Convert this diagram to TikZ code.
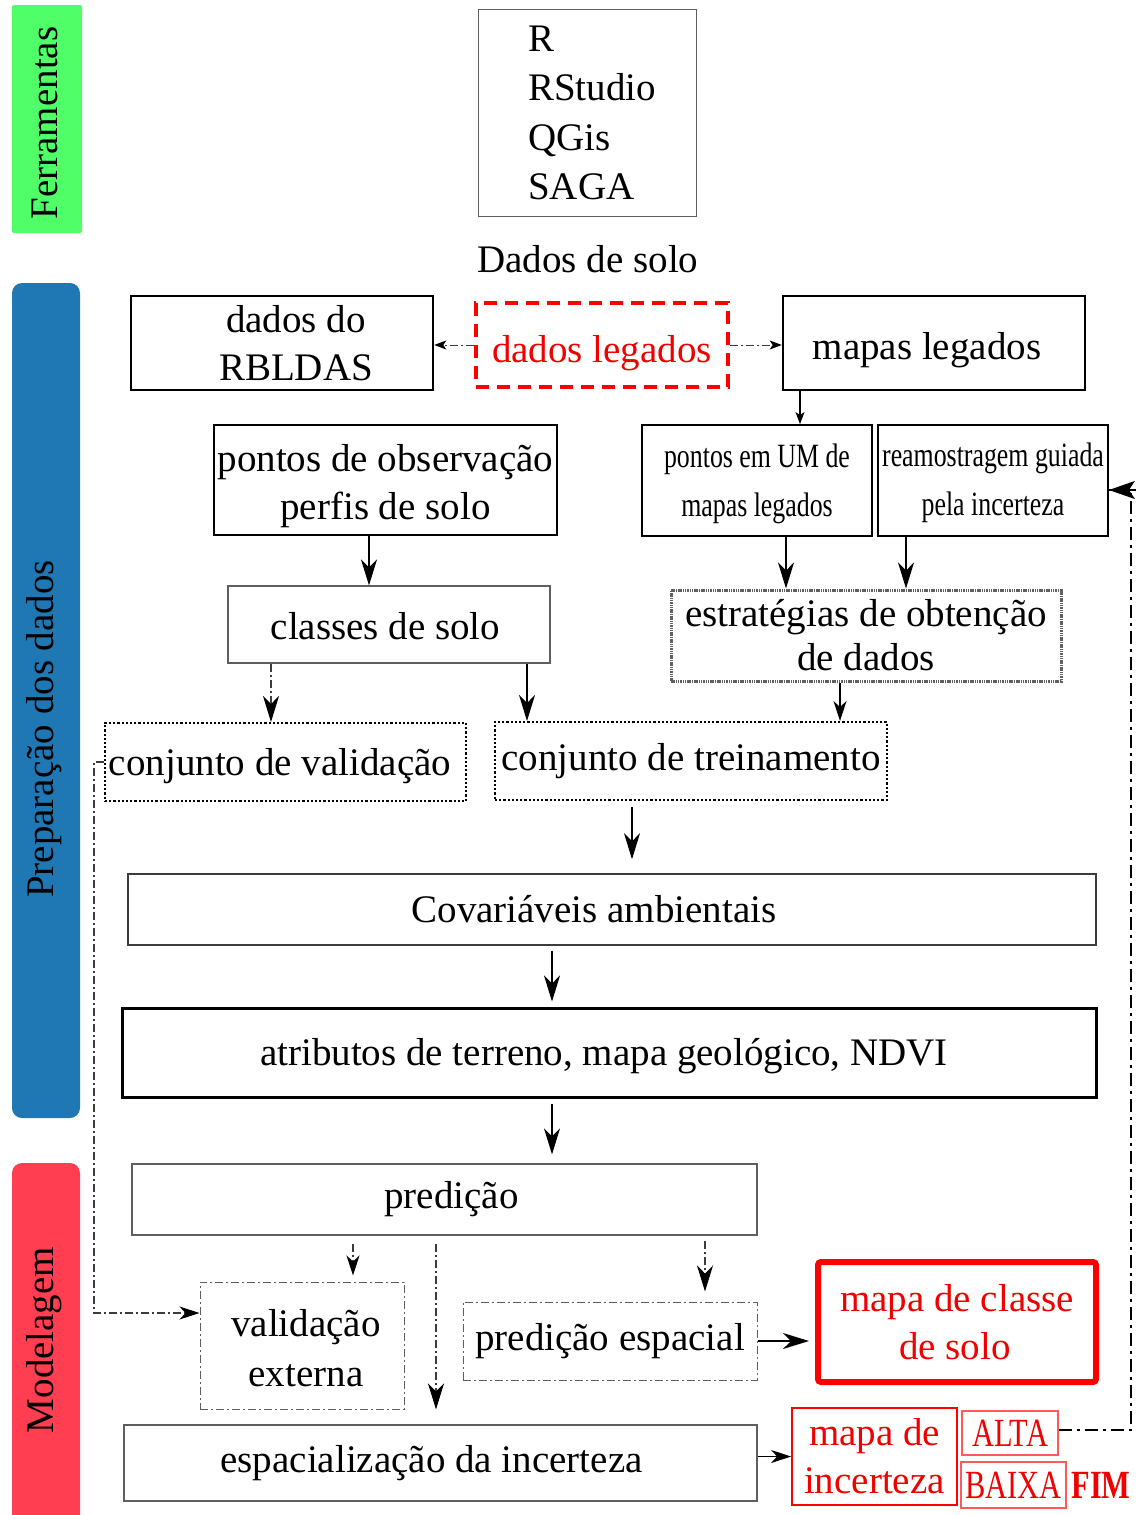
\documentclass[tikz,border=0pt]{standalone}
\usepackage{fontspec}
\setmainfont{Liberation Serif}
\newfontfamily\condfont{Liberation Serif}[FakeStretch=0.76]
\usetikzlibrary{arrows.meta,calc}
\definecolor{barGreen}{RGB}{80,255,104}
\definecolor{barBlue}{RGB}{31,119,180}
\definecolor{barRed}{RGB}{255,62,82}
\definecolor{boxGray}{RGB}{95,95,95}
\definecolor{lineGray}{RGB}{60,60,60}
\definecolor{txtRed}{RGB}{240,0,0}
\newcommand{\lift}[1]{\rule{0pt}{#1pt}}
\begin{document}
\begin{tikzpicture}[x=1pt,y=-1pt,
  every node/.style={font=\fontsize{39}{48}\selectfont, inner sep=0pt, align=center},
  sz/.style 2 args={minimum width=#1pt, minimum height=#2pt},
  thickbox/.style={draw=black, line width=2.5pt},
  medbox/.style={draw=black, line width=1.8pt},
  thinbox/.style={draw=boxGray, line width=1.2pt},
  dotbox/.style={draw=black, line width=2pt, dash pattern=on 2.2pt off 2pt},
  ddbox/.style={draw=boxGray, line width=1pt, dash pattern=on 8pt off 3pt on 2pt off 3pt},
  reddash/.style={draw=red, line width=4.5pt, dash pattern=on 13pt off 8pt},
  greydense/.style={draw=gray!75!black, line width=3pt, dash pattern=on 1.5pt off 0.8pt},
  condtext/.style={font=\condfont\fontsize{34}{49}\selectfont},
  arrbig/.style={-{Stealth[length=26pt,width=16pt,inset=8pt,color=black]}, line width=1.5pt},
  arrmid/.style={-{Stealth[length=20pt,width=13pt,inset=6pt,color=black]}, line width=1.3pt},
  arrsmall/.style={-{Stealth[length=12pt,width=9pt,inset=3pt,color=black]}, line width=1.2pt},
  dd/.style={draw=lineGray, dash pattern=on 8pt off 3pt on 2pt off 3pt}
]
\useasboundingbox (0,0) rectangle (1146,1515);

% side bars
\fill[barGreen, rounded corners=2pt] (12,5) rectangle (82,233);
\fill[barBlue, rounded corners=10pt] (12,283) rectangle (80,1118);
\fill[barRed, rounded corners=10pt] (12,1163) rectangle (80,1530);
\node[rotate=90] (lblferr) at (45,123) {Ferramentas};
\node[rotate=90] (lblprep) at (44,729) {Preparação dos dados};
\node[rotate=90] (lblmod) at (44,1340) {Modelagem};

% tools
\node[thinbox, line width=1pt, sz={218}{207}] (toolsbox) at (587,112.5) {};
\node[anchor=west, align=left, font=\fontsize{39}{49.5}\selectfont] (toolstext) at (528,113) {R\\RStudio\\QGis\\SAGA};
\node (dadossolo) at (588,259) {Dados de solo};

% row 1
\node[thickbox, sz={302}{94}] (rbldas) at (282,343) {\hspace*{28pt}dados do\\\hspace*{28pt}RBLDAS};
\node[reddash, sz={252}{84}, text=txtRed] (legados) at (602,345) {\lift{43}dados legados};
\node[thickbox, sz={302}{94}] (mapas) at (934,343) {\lift{41}mapas legados\hspace*{14pt}};

% row 2
\node[medbox, sz={343}{110}] (pontosobs) at (385.5,480) {\lift{40}pontos de observação\\perfis de solo};
\node[medbox, sz={230}{111}, condtext] (pontosUM) at (757,480.5) {\lift{31}pontos em UM de\\mapas legados};
\node[medbox, sz={230}{111}, condtext] (ream) at (993,480.5) {\lift{29}reamostragem guiada\\pela incerteza};

% row 3
\node[thinbox, sz={322}{77}] (classes) at (389,624.5) {\lift{31}classes de solo\hspace*{7pt}};
\node[greydense, sz={390}{91}, font=\fontsize{39}{44}\selectfont] (estrat) at (866,635.5) {estratégias de obtenção\\de dados};

% row 4
\node[dotbox, sz={361}{78}] (cval) at (285.5,762) {\lift{35}conjunto de validação\hspace*{11pt}};
\node[dotbox, sz={392}{78}] (ctrein) at (691,761) {conjunto de treinamento};

% covariates
\node[thinbox, line width=1.5pt, draw=lineGray, sz={968}{71}] (cov) at (612,909.5) {Covariáveis ambientais\hspace*{36pt}};
\node[draw=black, line width=3pt, sz={974}{89}] (atrib) at (609,1052.5) {\lift{34}atributos de terreno, mapa geológico, NDVI\hspace*{10pt}};

% modelling
\node[thinbox, sz={625}{71}] (pred) at (444.5,1199.5) {\hspace*{14pt}predição};
\node[ddbox, sz={204}{127}, font=\fontsize{39}{50}\selectfont] (valext) at (302,1345.5) {\lift{33}\hspace*{8pt}validação\\\hspace*{8pt}externa};
\node[ddbox, sz={294}{78}] (predesp) at (610,1341) {predição espacial};
\node[thinbox, sz={633}{76}] (espac) at (440.5,1463) {espacialização da incerteza\hspace*{18pt}};
\node[draw=red, line width=6pt, rounded corners=3pt, sz={278}{120}, text=txtRed] (mapaclasse) at (957,1322) {mapa de classe\\de solo\hspace*{4pt}};
\node[draw=red, line width=1.8pt, sz={165}{97}, text=txtRed] (mapainc) at (874.5,1456.5) {mapa de\\incerteza};
\node[draw=red!65, line width=1.2pt, sz={96}{44}, text=txtRed, font=\condfont\fontsize{40}{48}\selectfont] (alta) at (1010,1433) {ALTA};
\node[draw=red!65, line width=1.2pt, sz={105}{46}, text=txtRed, font=\condfont\fontsize{40}{48}\selectfont] (baixa) at (1013.5,1485) {BAIXA};
\node[text=txtRed, font=\condfont\bfseries\fontsize{40}{48}\selectfont] (fim) at (1101,1485) {FIM};

% connector anchor points
\coordinate (pMap) at ($(mapas.south)+(-134,0)$);
\coordinate (pObs) at ($(pontosobs.south)+(-16.5,0)$);
\coordinate (pClA) at ($(classes.south)+(-118,0)$);
\coordinate (pClB) at ($(classes.south)+(138,0)$);
\coordinate (pUM) at ($(pontosUM.south)+(29,0)$);
\coordinate (pRe) at ($(ream.south)+(-87,0)$);
\coordinate (pEs) at ($(estrat.south)+(-26,0)$);
\coordinate (pTr) at ($(ctrein.south)+(-59,0)$);
\coordinate (pCo) at ($(cov.south)+(-60,0)$);
\coordinate (pAt) at ($(atrib.south)+(-57,0)$);
\coordinate (pPrA) at ($(pred.south)+(-91.5,0)$);
\coordinate (pPrB) at ($(pred.south)+(-8.5,0)$);
\coordinate (pPrC) at ($(pred.south)+(260.5,0)$);
\coordinate (pVal) at ($(valext.west)+(0,-32.5)$);
\coordinate (pAlta) at ($(alta.east)+(0,-3)$);
\coordinate (pRem) at ($(ream.east)+(0,9.5)$);
\coordinate (pRemTail) at ($(pRem)+(27,0)$);

% connectors
\draw[arrsmall, dd, line width=1pt] (legados.west) -- (legados.west -| rbldas.east);
\draw[arrsmall, dd, line width=1pt] (legados.east) -- (legados.east -| mapas.west);
\draw[arrsmall] (pMap) -- (pMap |- pontosUM.north);
\draw[arrbig] (pObs) -- (pObs |- classes.north);
\draw[arrbig, dd, line width=1.2pt] (pClA) -- (pClA |- cval.north);
\draw[arrbig] (pClB) -- (pClB |- ctrein.north);
\draw[arrbig] (pUM) -- (pUM |- estrat.north);
\draw[arrbig] (pRe) -- (pRe |- estrat.north);
\draw[arrmid] (pEs) -- (pEs |- ctrein.north);
\draw[arrbig, shorten <=6pt, shorten >=14pt] (pTr) -- (pTr |- cov.north);
\draw[arrbig, shorten <=5pt, shorten >=5pt] (pCo) -- (pCo |- atrib.north);
\draw[arrbig, shorten <=5pt, shorten >=9pt] (pAt) -- (pAt |- pred.north);
\draw[arrmid, dd, line width=1.1pt, shorten <=8pt, shorten >=6pt] (pPrA) -- (pPrA |- valext.north);
\draw[arrbig, dd, line width=1.1pt, shorten <=8pt, shorten >=15pt] (pPrB) -- (pPrB |- espac.north);
\draw[arrbig, dd, line width=1.1pt, shorten <=5pt, shorten >=10pt] (pPrC) -- (pPrC |- predesp.north);
\draw[arrbig, shorten >=6pt] (predesp.east) -- (predesp.east -| mapaclasse.west);
\draw[arrmid] (espac.east |- mapainc.west) -- (mapainc.west);
\draw[arrmid, dd, line width=1.1pt] (cval.west) -- ++(-10,0) |- (pVal);
\draw[draw=black, line width=2.2pt, dash pattern=on 13pt off 5pt on 3pt off 5pt]
  (pAlta) -- ++(72,0) |- (pRem);
\draw[-{Stealth[length=26pt,width=18pt,inset=6pt]}, line width=2pt] (pRemTail) -- (pRem);
\end{tikzpicture}
\end{document}
